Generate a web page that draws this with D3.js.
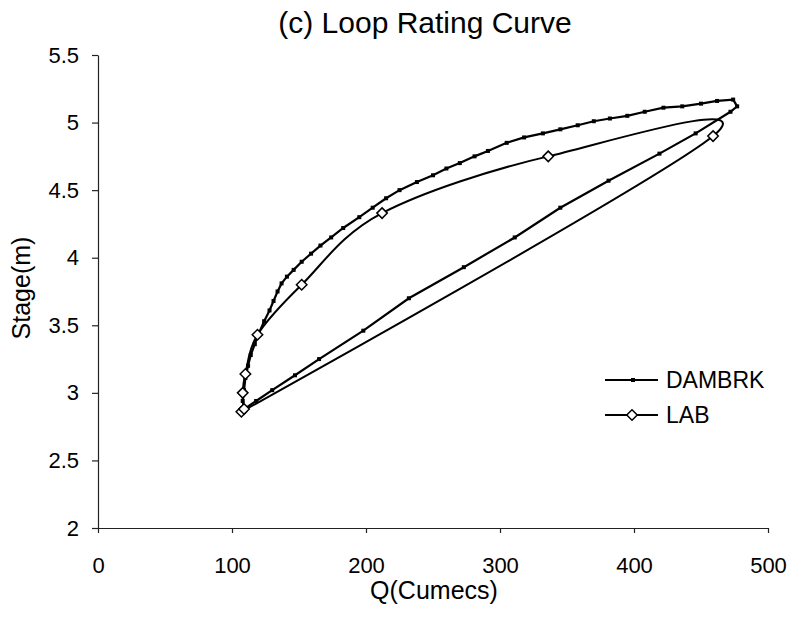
<!DOCTYPE html>
<html>
<head>
<meta charset="utf-8">
<script src="https://cdn.jsdelivr.net/npm/d3@7"></script>
<style>
  body { margin: 0; background: #fff; }
  svg { display: block; font-family: "Liberation Sans", Arial, sans-serif; }
</style>
</head>
<body>
<div id="chart"></div>
<script>
const xTicks = [0, 100, 200, 300, 400, 500]
const yTicks = [2, 2.5, 3, 3.5, 4, 4.5, 5, 5.5]

// DAMBRK: rising limb (lower line) then falling limb (upper line), [Q, stage]
const dambrkQ = [109, 118, 130, 147, 165, 198, 232, 273, 311, 345, 381, 419, 446, 472, 477,
  474, 462, 450, 436, 422, 408, 395, 382, 370, 358, 345, 332, 318, 305, 291, 281, 270, 260, 250,
  238, 225, 215, 205, 195, 183, 174, 166, 159, 152, 146, 141, 137, 134, 131, 128, 124, 120, 117,
  114, 112, 110, 109, 108, 109]
const dambrkStage = [2.88, 2.94, 3.02, 3.13, 3.25, 3.46, 3.70, 3.93, 4.15, 4.37, 4.57, 4.77, 4.92, 5.08, 5.12,
  5.17, 5.16, 5.14, 5.12, 5.11, 5.08, 5.05, 5.03, 5.01, 4.98, 4.95, 4.92, 4.89, 4.85, 4.79, 4.75, 4.70, 4.66, 4.61,
  4.56, 4.50, 4.44, 4.37, 4.30, 4.22, 4.15, 4.09, 4.03, 3.97, 3.91, 3.86, 3.81, 3.75, 3.68, 3.61, 3.53, 3.44, 3.36,
  3.28, 3.20, 3.11, 3.02, 2.94, 2.88]

// LAB measurements, [Q, stage]
const labQ = [107, 459, 336, 212, 152, 119, 110, 108, 109]
const labStage = [2.86, 4.90, 4.75, 4.33, 3.80, 3.43, 3.14, 3.00, 2.88]

const seriesNames = ["DAMBRK", "LAB"]

const width = 795
const height = 622

const x = d3.scaleLinear().domain([0, 500]).range([98, 768])
const y = d3.scaleLinear().domain([2, 5.5]).range([528, 55])

const dambrk = dambrkQ.map((q, i) => ({ q: q, s: dambrkStage[i] }))
const lab = labQ.map((q, i) => ({ q: q, s: labStage[i] }))

const svg = d3.select("#chart").append("svg")
  .attr("width", width)
  .attr("height", height)

svg.append("text")
  .attr("x", 425)
  .attr("y", 33)
  .attr("text-anchor", "middle")
  .attr("font-size", 30)
  .text("(c) Loop Rating Curve")

var xAxis = svg.append("g")
  .attr("transform", "translate(0," + y(2) + ")")
  .call(d3.axisBottom(x).tickValues(xTicks).tickSize(5).tickSizeOuter(0).tickPadding(24))
xAxis.selectAll("text").attr("font-size", 22).attr("fill", "#000")

var yAxis = svg.append("g")
  .attr("transform", "translate(" + x(0) + ",0)")
  .call(d3.axisLeft(y).tickValues(yTicks).tickSize(6).tickSizeOuter(0).tickPadding(13)
    .tickFormat(d3.format("")))
yAxis.selectAll("text").attr("font-size", 22).attr("fill", "#000")

svg.selectAll(".domain, .tick line").attr("stroke", "#222").attr("stroke-width", 1.2)

svg.append("text")
  .attr("x", 434)
  .attr("y", 599)
  .attr("text-anchor", "middle")
  .attr("font-size", 25)
  .text("Q(Cumecs)")

svg.append("text")
  .attr("transform", "translate(30,288) rotate(-90)")
  .attr("text-anchor", "middle")
  .attr("font-size", 25)
  .text("Stage(m)")

const dambrkLine = d3.line().x(d => x(d.q)).y(d => y(d.s))
const labLine = d3.line().x(d => x(d.q)).y(d => y(d.s)).curve(d3.curveCardinal.tension(0))

svg.append("path")
  .datum(lab)
  .attr("fill", "none")
  .attr("stroke", "#000")
  .attr("stroke-width", 2)
  .attr("d", labLine)

svg.append("path")
  .datum(dambrk)
  .attr("fill", "none")
  .attr("stroke", "#000")
  .attr("stroke-width", 2.2)
  .attr("d", dambrkLine)

const diamond = d3.symbol().type(d3.symbolDiamond2).size(70)

svg.append("g")
  .selectAll("rect")
  .data(dambrk)
  .enter().append("rect")
    .attr("x", d => x(d.q) - 2)
    .attr("y", d => y(d.s) - 2)
    .attr("width", 4)
    .attr("height", 4)
    .attr("fill", "#000")

svg.append("g")
  .selectAll("path")
  .data(lab)
  .enter().append("path")
    .attr("transform", d => "translate(" + x(d.q) + "," + y(d.s) + ")")
    .attr("d", diamond)
    .attr("fill", "#fff")
    .attr("stroke", "#000")
    .attr("stroke-width", 1.5)

// legend
const legend = svg.append("g")
  .selectAll("g")
  .data(seriesNames)
  .enter().append("g")
    .attr("transform", (d, i) => "translate(605," + (380 + i * 35) + ")")

legend.append("line")
  .attr("x1", 0)
  .attr("x2", 53)
  .attr("stroke", "#000")
  .attr("stroke-width", 2)

legend.filter(d => d == "DAMBRK").append("rect")
  .attr("x", 26)
  .attr("y", -2)
  .attr("width", 4)
  .attr("height", 4)

legend.filter(d => d == "LAB").append("path")
  .attr("transform", "translate(27,0)")
  .attr("d", diamond)
  .attr("fill", "#fff")
  .attr("stroke", "#000")
  .attr("stroke-width", 1.5)

legend.append("text")
  .attr("x", 61)
  .attr("dy", "0.35em")
  .attr("font-size", 23)
  .text(d => d)
</script>
</body>
</html>
